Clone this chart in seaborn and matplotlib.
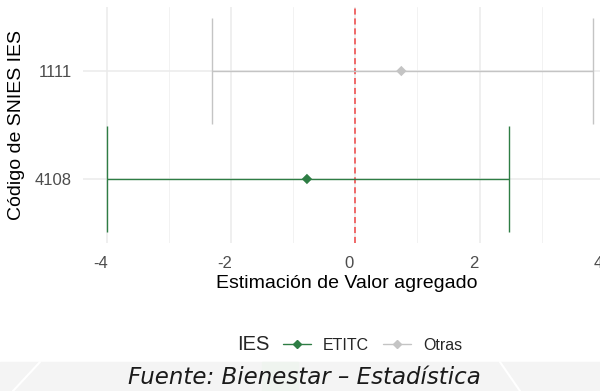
import matplotlib
matplotlib.use("Agg")
import matplotlib.pyplot as plt
import matplotlib.lines as mlines
from matplotlib.transforms import ScaledTranslation
import numpy as np
import pandas as pd
import seaborn as sns

# valores
codigos = ["4108", "1111"]
ies = ["ETITC", "Otras"]
estimacion = [-0.78, 0.74]
limite_inf = [-4.0, -2.31]
limite_sup = [2.47, 3.82]

colores = {"ETITC": "#2E7D44", "Otras": "#C4C4C4"}

df = pd.DataFrame({"codigo": codigos, "ies": ies, "est": estimacion,
                   "lo": limite_inf, "hi": limite_sup})
df["pos"] = np.arange(len(df))

sns.set_theme(style="whitegrid")
plt.rcParams["font.family"] = ["Liberation Sans", "DejaVu Sans"]
plt.rcParams["axes.unicode_minus"] = False

fig = plt.figure(figsize=(6, 3.91), dpi=100)
# el panel sigue mas alla del borde derecho (la imagen original esta recortada)
ax = fig.add_axes([83 / 600, 148 / 391, 527 / 600, 236 / 391])

# grilla estilo theme_minimal
ax.set_xticks([-4, -2, 0, 2, 4])
ax.set_xticks([-3, -1, 1, 3], minor=True)
ax.grid(which="major", color="#EBEBEB", lw=1.1)
ax.grid(which="minor", axis="x", color="#F2F2F2", lw=0.7)
ax.set_axisbelow(True)
for s in ax.spines.values():
    s.set_visible(False)

ax.axvline(0, color="#F04545", ls=(0, (4, 2.5)), lw=1.1, zorder=1)

for _, r in df.iterrows():
    ax.errorbar(r["est"], r["pos"],
                xerr=[[r["est"] - r["lo"]], [r["hi"] - r["est"]]],
                fmt="none", ecolor=colores[r["ies"]], elinewidth=1.0,
                capsize=38, capthick=1.0, zorder=2)

sns.scatterplot(data=df, x="est", y="pos", hue="ies", palette=colores,
                marker="D", s=28, edgecolor="none", legend=False, ax=ax,
                zorder=3)

ax.set_xlim(-4.386, 4.1)
ax.set_ylim(-0.593, 1.593)
ax.set_yticks(df["pos"])
ax.set_yticklabels(df["codigo"])
ax.tick_params(axis="both", labelsize=12, colors="#4D4D4D", length=0)
ax.tick_params(axis="x", pad=9)
ax.tick_params(axis="y", pad=8)
off = ScaledTranslation(-6 / 100, 0, fig.dpi_scale_trans)
for lab in ax.get_xticklabels():
    lab.set_transform(lab.get_transform() + off)
ax.set_xlabel("Estimación de Valor agregado", fontsize=14, color="black",
              labelpad=3)
ax.set_ylabel("Código de SNIES IES", fontsize=14, color="black",
              labelpad=7)

# leyenda horizontal abajo
handles = [mlines.Line2D([], [], color=colores[k], marker="D", markersize=4,
                         lw=1.0, label=k) for k in ies]
fig.legend(handles=handles, loc="center left",
           bbox_to_anchor=(283 / 600, 1 - 345 / 391), ncol=2, frameon=False,
           fontsize=11.5, handlelength=1.75, handletextpad=0.75,
           columnspacing=0.9, borderaxespad=0, borderpad=0)
fig.text(237 / 600, 1 - 345 / 391, "IES", fontsize=14.5, va="center",
         ha="left")

# franja inferior con la fuente
band_h = (391 - 362) / 391
fig.patches.append(plt.Rectangle((0, 0), 1, band_h, transform=fig.transFigure,
                                 color="#F4F4F4", zorder=0))
fig.patches.append(plt.Rectangle((262 / 600, 0), 36 / 600, band_h,
                                 transform=fig.transFigure, color="#EFF4EF",
                                 zorder=0))
for x0, x1 in [(13, 40), (520, 500)]:
    fig.lines.append(mlines.Line2D([x0 / 600, x1 / 600], [0, band_h],
                                   transform=fig.transFigure, color="white",
                                   lw=1.5))
fig.text(0.508, 1 - 377 / 391, "Fuente: Bienestar – Estadística",
         fontsize=16.5, style="italic", family="DejaVu Sans", ha="center",
         va="center", color="#1A1A1A")

fig.savefig("out.png", dpi=100)
